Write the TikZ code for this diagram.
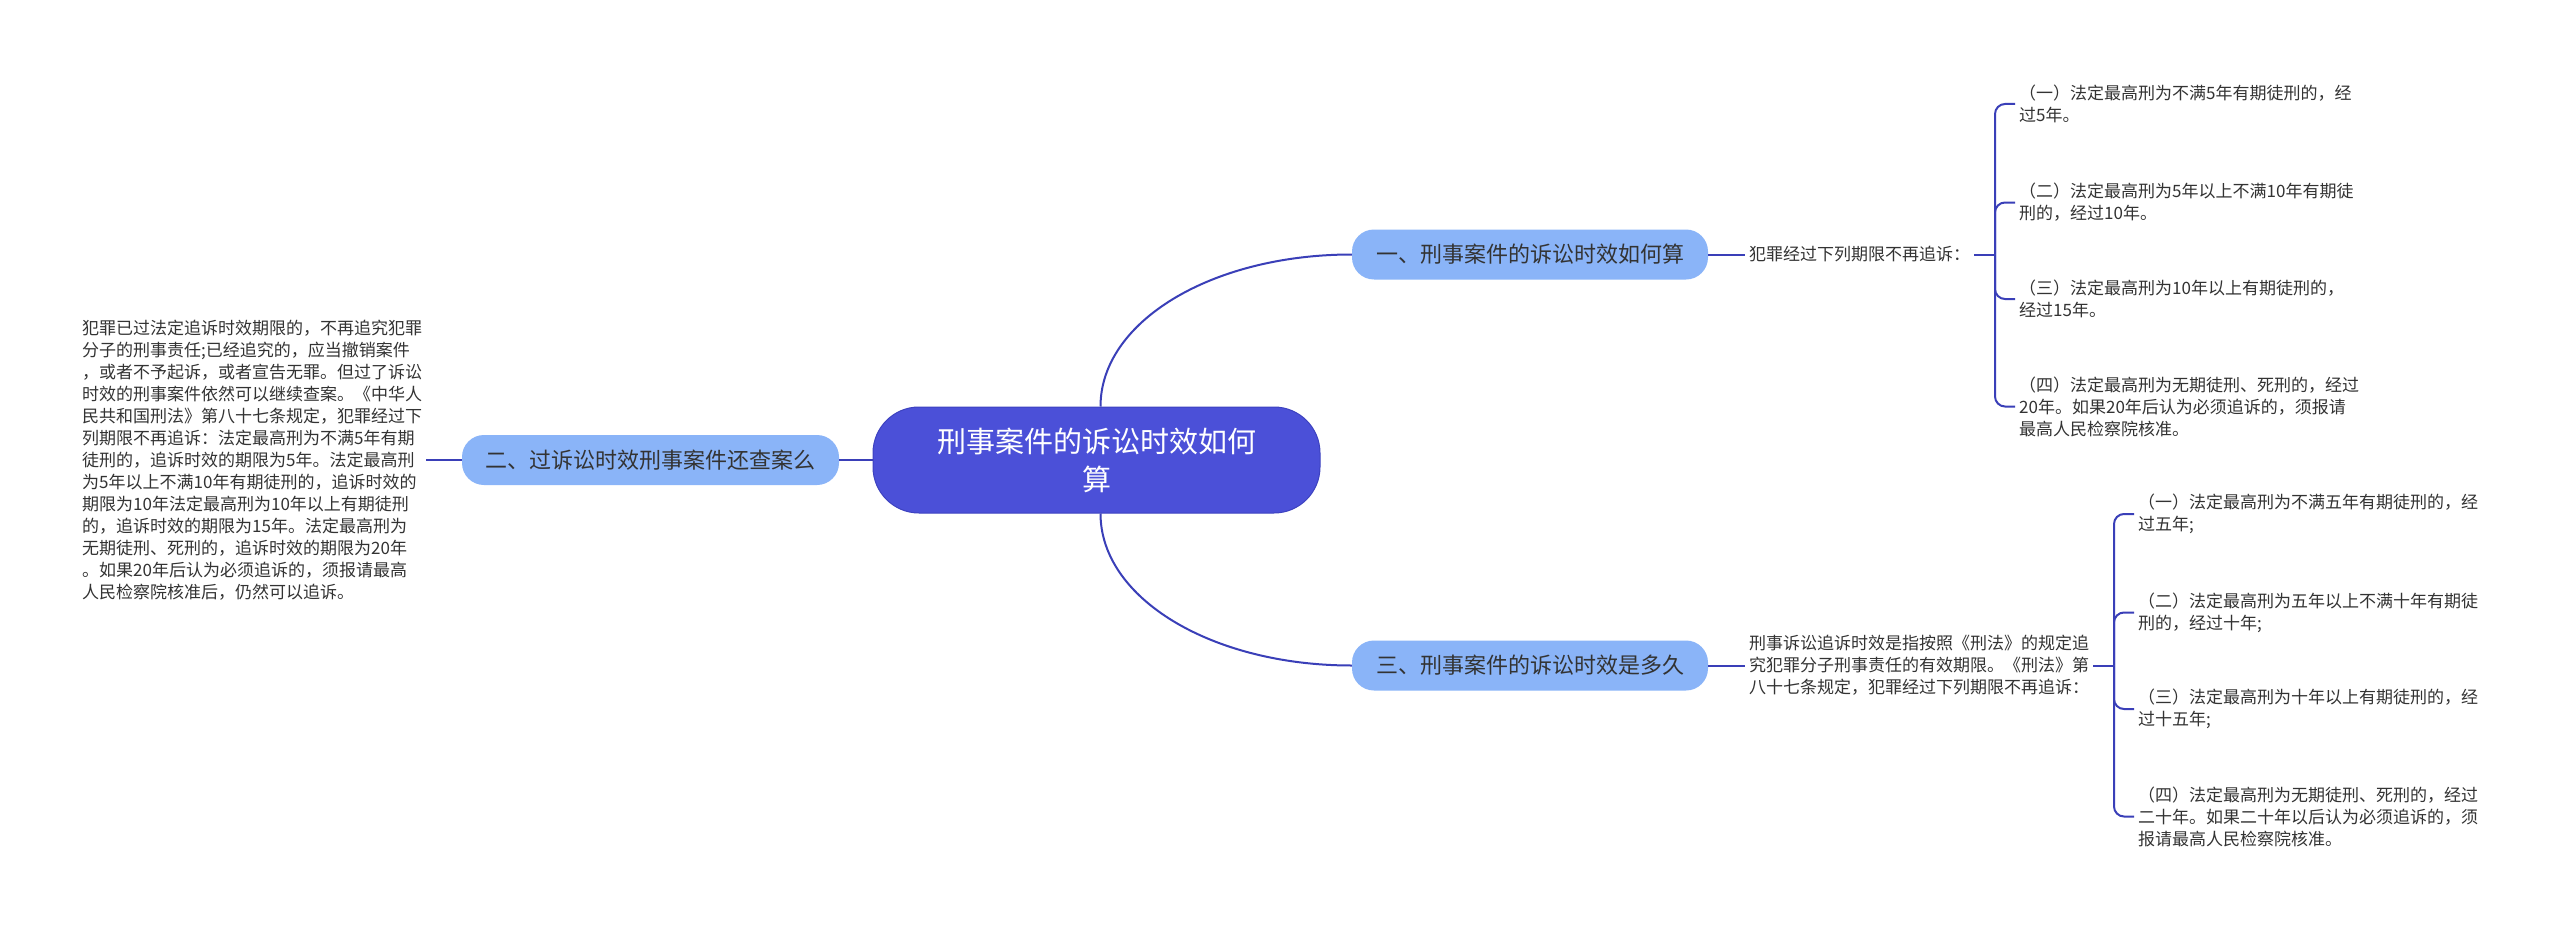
\documentclass[tikz,border=0pt]{standalone}
\usepackage{fontspec}
\setmainfont{Noto Sans CJK SC}
\definecolor{rootfill}{HTML}{4B50D8}
\definecolor{rootdraw}{HTML}{3D42C0}
\definecolor{branchfill}{HTML}{8AB4F8}
\definecolor{linec}{HTML}{3A3FB8}
\definecolor{textc}{HTML}{333333}
\tikzset{
  rootbox/.style={rectangle, rounded corners=46, fill=rootfill, draw=rootdraw, line width=1,
    minimum width=447, minimum height=106, inner sep=0, align=center, text=white,
    font=\fontsize{29}{38}\selectfont},
  branchbox/.style={rectangle, rounded corners=22, fill=branchfill, minimum height=50,
    inner sep=0, text=textc, font=\fontsize{22}{26}\selectfont},
  desc/.style={anchor=west, inner xsep=4, inner ysep=2, align=left, text=textc,
    font=\fontsize{17}{22}\selectfont},
  conn/.style={draw=linec, line width=2},
  brace/.style={draw=linec, line width=2, rounded corners=10},
}
\begin{document}
\begin{tikzpicture}[x=1pt, y=-1pt]
\useasboundingbox[fill=white] (0,0) rectangle (2560,931);

% root
\node[rootbox] (root) at (1096.5,460) {刑事案件的诉讼时效如何\\算};

% branches
\node[branchbox, minimum width=356] (b1) at (1530,254.5) {一、刑事案件的诉讼时效如何算};
\node[branchbox, minimum width=377] (b2) at (650.5,460) {二、过诉讼时效刑事案件还查案么};
\node[branchbox, minimum width=356] (b3) at (1530,665.5) {三、刑事案件的诉讼时效是多久};

% descriptions
\node[desc] (t1) at (1745,254.5) {犯罪经过下列期限不再追诉：};
\node[desc] (t3) at (1745,665.5) {刑事诉讼追诉时效是指按照《刑法》的规定追\\究犯罪分子刑事责任的有效期限。《刑法》第\\八十七条规定，犯罪经过下列期限不再追诉：};
\node[desc] (t2) at (78,460) {犯罪已过法定追诉时效期限的，不再追究犯罪\\分子的刑事责任;已经追究的，应当撤销案件\\，或者不予起诉，或者宣告无罪。但过了诉讼\\时效的刑事案件依然可以继续查案。《中华人\\民共和国刑法》第八十七条规定，犯罪经过下\\列期限不再追诉：法定最高刑为不满5年有期\\徒刑的，追诉时效的期限为5年。法定最高刑\\为5年以上不满10年有期徒刑的，追诉时效的\\期限为10年法定最高刑为10年以上有期徒刑\\的，追诉时效的期限为15年。法定最高刑为\\无期徒刑、死刑的，追诉时效的期限为20年\\。如果20年后认为必须追诉的，须报请最高\\人民检察院核准后，仍然可以追诉。};

% leaves of branch 1
\node[desc] (l11) at (2015,104) {（一）法定最高刑为不满5年有期徒刑的，经\\过5年。};
\node[desc] (l12) at (2015,202.5) {（二）法定最高刑为5年以上不满10年有期徒\\刑的，经过10年。};
\node[desc] (l13) at (2015,299) {（三）法定最高刑为10年以上有期徒刑的，\\经过15年。};
\node[desc] (l14) at (2015,406.5) {（四）法定最高刑为无期徒刑、死刑的，经过\\20年。如果20年后认为必须追诉的，须报请\\最高人民检察院核准。};

% leaves of branch 3
\node[desc] (l31) at (2134,514) {（一）法定最高刑为不满五年有期徒刑的，经\\过五年;};
\node[desc] (l32) at (2134,612.5) {（二）法定最高刑为五年以上不满十年有期徒\\刑的，经过十年;};
\node[desc] (l33) at (2134,709) {（三）法定最高刑为十年以上有期徒刑的，经\\过十五年;};
\node[desc] (l34) at (2134,816.5) {（四）法定最高刑为无期徒刑、死刑的，经过\\二十年。如果二十年以后认为必须追诉的，须\\报请最高人民检察院核准。};

% connectors root -> branches (yshift is on the page: + is up)
\coordinate (rn) at ([xshift=4]root.north);
\coordinate (rs) at ([xshift=4]root.south);
\draw[conn] (rn) .. controls ([yshift=85]rn) and ([xshift=-140]b1.west) .. (b1.west);
\draw[conn] (rs) .. controls ([yshift=-85]rs) and ([xshift=-140]b3.west) .. (b3.west);
\draw[conn] (root.west) -- (b2.east);

% branch -> description
\draw[conn] (b1.east) -- (t1.west);
\draw[conn] (b3.east) -- (t3.west);
\draw[conn] (b2.west) -- (t2.east);

% brackets
\coordinate (j1) at (1995,254.5);
\coordinate (j3) at (2114,665.5);
\draw[conn] (t1.east) -- (j1);
\draw[conn] (t3.east) -- (j3);
\foreach \l in {l11,l12,l13,l14} \draw[brace] (j1) |- (\l.west);
\foreach \l in {l31,l32,l33,l34} \draw[brace] (j3) |- (\l.west);
\end{tikzpicture}
\end{document}
